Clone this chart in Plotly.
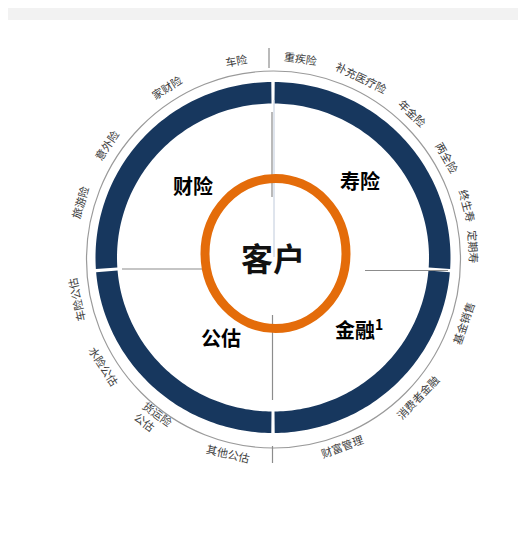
import math
import plotly.graph_objects as go

# ---- data ----
center_label = "客户"
quadrant_labels = ["寿险", "金融<sup>1</sup>", "公估", "财险"]
outer_labels = ["重疾险", "补充医疗险", "年金险", "两全险", "终生寿", "定期寿",
                "基金销售", "消费者金融", "财富管理",
                "其他公估", "货运险<br>公估", "水险公估", "车险公估",
                "旅游险", "意外险", "家财险", "车险"]
# angular position of each outer label, degrees clockwise from 12 o'clock
outer_angles = [8, 26, 44, 60, 75, 87, 109, 134, 160,
                -167, -143.5, -122.7, -102, -74, -56, -32, -10.5]
# quadrant boundaries of the blue ring (deg clockwise from top)
quad_bounds = [0, 94.3, 180, 265.7, 360]

W, H = 526, 539
OFF = 8  # page offset of the plot inside the browser window
CX, CY = 273, 257.5

NAVY = "#17375E"
ORANGE = "#E46C0A"
GRAY = "#8C8C8C"


def pt(a, rx, ry, cx=CX, cy=CY):
    t = math.radians(a)
    return cx + rx * math.sin(t), cy - ry * math.cos(t)


def sector_path(a0, a1, rxo, ryo, rxi, ryi, n=80):
    pts = []
    for i in range(n + 1):
        a = a0 + (a1 - a0) * i / n
        pts.append(pt(a, rxo, ryo))
    for i in range(n + 1):
        a = a1 - (a1 - a0) * i / n
        pts.append(pt(a, rxi, ryi))
    return "M " + " L ".join(f"{x:.2f},{y:.2f}" for x, y in pts) + " Z"


shapes = []
# white content area
shapes.append(dict(type="rect", xref="x", yref="y", x0=8, y0=20, x1=W + 20, y1=H + 20,
                   fillcolor="white", line=dict(width=0), layer="below"))

# thin outer grey circle
shapes.append(dict(type="circle", xref="x", yref="y",
                   x0=273.5 - 187, x1=273.5 + 187, y0=259.5 - 188.5, y1=259.5 + 188.5,
                   line=dict(color="#9A9A9A", width=1.2)))

# navy ring in four quadrants with small gaps
gap = 0.55
for i in range(4):
    a0 = quad_bounds[i] + gap
    a1 = quad_bounds[i + 1] - gap
    shapes.append(dict(type="path", xref="x", yref="y",
                       path=sector_path(a0, a1, 177.5, 175.5, 156, 154),
                       fillcolor=NAVY, line=dict(width=0)))

# divider lines
line_style = dict(color=GRAY, width=1.2)
segs = [
    (272, 112, 272, 197),      # top inner
    (269, 48, 269, 68),        # top outside
    (122, 269, 207, 269),      # left
    (365, 270.5, 448, 270.5),  # right
    (272.5, 315, 272.5, 400),  # bottom inner
    (272.5, 446, 272.5, 463),  # bottom outside
]
for x0, y0, x1, y1 in segs:
    shapes.append(dict(type="line", xref="x", yref="y", x0=x0, y0=y0, x1=x1, y1=y1,
                       line=line_style))
shapes.append(dict(type="line", xref="x", yref="y", x0=274, y0=100, x1=274, y1=257,
                   line=dict(color="#BFCADB", width=1)))

# orange ring
shapes.append(dict(type="circle", xref="x", yref="y",
                   x0=275.5 - 70.5, x1=275.5 + 70.5, y0=253.5 - 75, y1=253.5 + 75,
                   line=dict(color=ORANGE, width=9)))

annotations = []
# outer labels
R_LAB = 201
for lab, a in zip(outer_labels, outer_angles):
    x, y = pt(a, R_LAB, R_LAB)
    if abs(a) <= 105:
        ta = a
    elif a > 0:
        ta = a - 180
    else:
        ta = a + 180
    annotations.append(dict(x=x, y=y, xref="x", yref="y", text=lab, showarrow=False,
                            textangle=ta, align="left",
                            font=dict(family="Noto Sans CJK SC", size=11, color="#3C3C3C")))

# quadrant labels
q_pos = [(360, 180, "center"), (333, 329, "left"), (221, 337, "center"), (193, 185, "center")]
for lab, (x, y, xa) in zip(quadrant_labels, q_pos):
    annotations.append(dict(x=x, y=y, xref="x", yref="y", text=f"<b>{lab}</b>",
                            showarrow=False, xanchor=xa,
                            font=dict(family="Noto Sans CJK SC", size=20, color="black")))

# centre label
annotations.append(dict(x=273, y=257, xref="x", yref="y", text=f"<b>{center_label}</b>",
                        showarrow=False,
                        font=dict(family="Noto Sans CJK SC", size=32, color="#111111")))

fig = go.Figure()
fig.add_trace(go.Scatter(x=[OFF, W], y=[OFF, H], mode="markers",
                         marker=dict(opacity=0), hoverinfo="skip", showlegend=False))
fig.update_layout(
    width=W, height=H, margin=dict(l=0, r=0, t=0, b=0),
    paper_bgcolor="#F2F2F2", plot_bgcolor="rgba(0,0,0,0)",
    xaxis=dict(range=[OFF, W + OFF], visible=False, fixedrange=True),
    yaxis=dict(range=[H + OFF, OFF], visible=False, fixedrange=True),
    shapes=shapes, annotations=annotations, showlegend=False,
)
fig.write_html("out.html")
